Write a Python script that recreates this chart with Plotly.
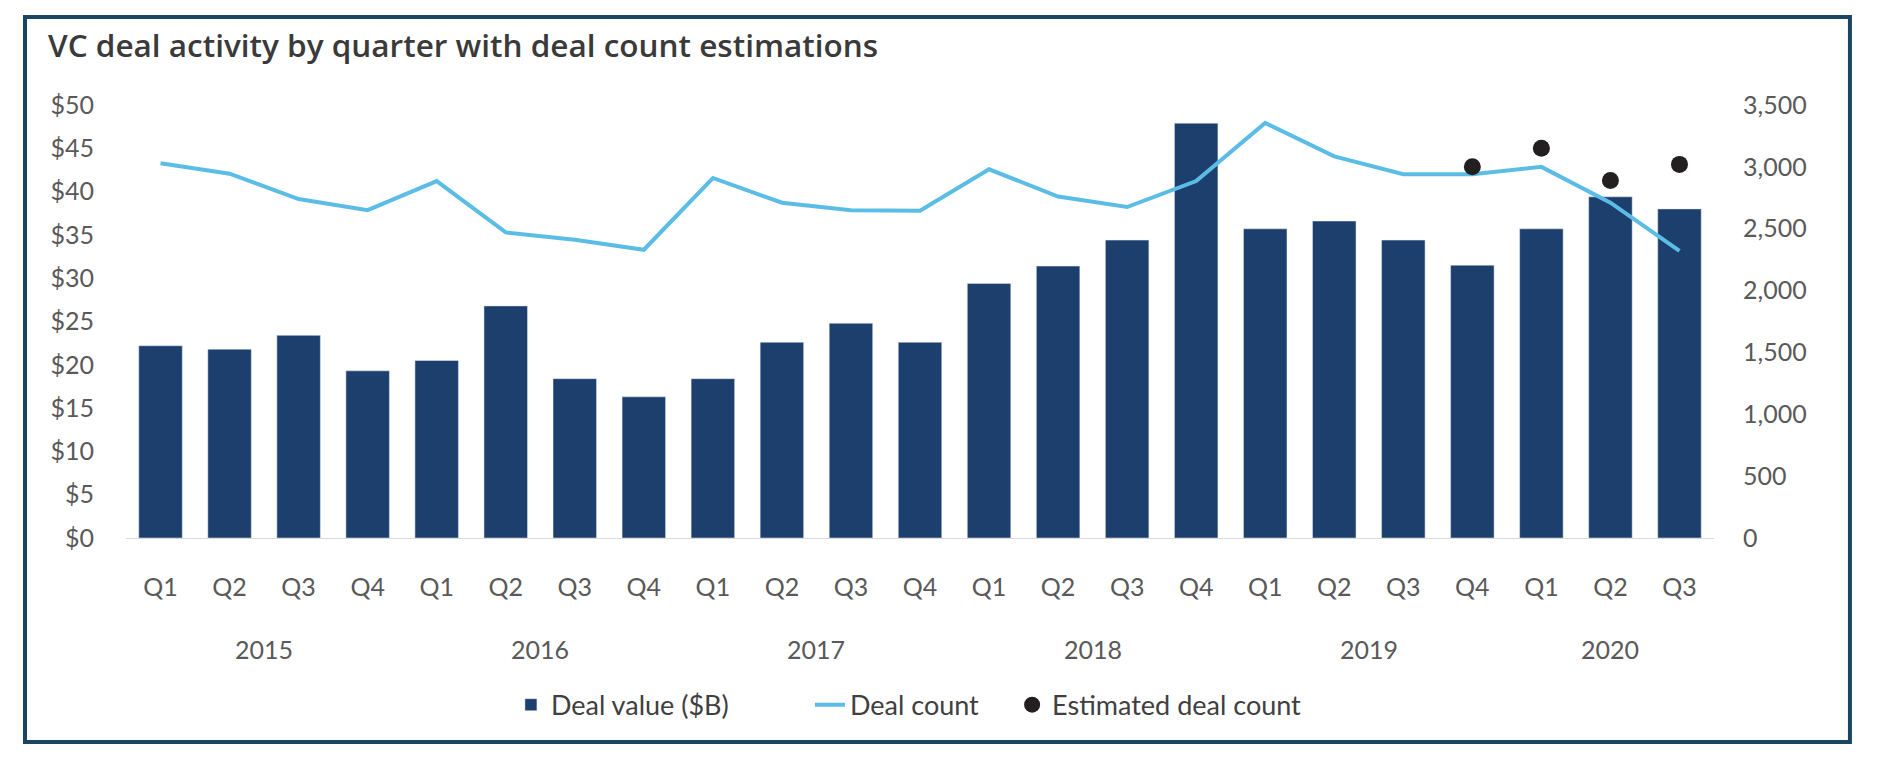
import plotly.graph_objects as go

years = ["2015", "2016", "2017", "2018", "2019", "2020"]
quarters_per_year = [4, 4, 4, 4, 4, 3]
quarters = ["Q1", "Q2", "Q3", "Q4"] * 5 + ["Q1", "Q2", "Q3"]

deal_value = [22.2, 21.8, 23.4, 19.3, 20.5, 26.8, 18.4, 16.3, 18.4, 22.6, 24.8, 22.6,
              29.4, 31.4, 34.4, 47.9, 35.7, 36.6, 34.4, 31.5, 35.7, 39.4, 38.0]
deal_count = [3030, 2945, 2740, 2650, 2885, 2470, 2410, 2330, 2910, 2710, 2650, 2645,
              2980, 2760, 2675, 2885, 3355, 3085, 2940, 2940, 3000, 2710, 2320]
estimated_count = [None] * 19 + [3000, 3150, 2890, 3020]

xs = list(range(len(quarters)))

BAR = "#1d3f6e"
LINE = "#5bbde6"
TXT = "#595959"
FONT = "Lato"

fig = go.Figure()
fig.add_trace(go.Bar(x=xs, y=deal_value, name="Deal value ($B)", marker_color=BAR))
fig.add_trace(go.Scatter(x=xs, y=deal_count, name="Deal count", mode="lines",
                         line=dict(color=LINE, width=4), yaxis="y2"))
fig.add_trace(go.Scatter(x=xs, y=estimated_count, name="Estimated deal count", mode="markers",
                         marker=dict(color="#231f20", size=17), yaxis="y2", legend="legend2"))

# year labels under the quarter ticks
pos = 0
for yr, n in zip(years, quarters_per_year):
    fig.add_annotation(x=pos + (n - 1) / 2, y=-0.256, xref="x", yref="paper",
                       text=yr, showarrow=False, yanchor="middle",
                       font=dict(family=FONT, size=25, color=TXT))
    pos += n

# outer frame
fig.add_shape(type="rect", xref="paper", yref="paper",
              x0=-0.0636, x1=1.0856, y0=-0.471, y1=1.203,
              line=dict(color="#1a4664", width=4))

legend_style = dict(orientation="h", xanchor="left", yanchor="middle", y=-0.386,
                    font=dict(family=FONT, size=27, color="#404040"),
                    bgcolor="rgba(0,0,0,0)")

# page body has an 8px margin, so the figure is 8px smaller than the window
fig.update_layout(
    width=1870, height=756,
    margin=dict(l=118, r=164, t=97, b=226),
    plot_bgcolor="white", paper_bgcolor="white",
    bargap=0.37,
    font=dict(family=FONT, size=25, color=TXT),
    title=dict(text="VC deal activity by quarter with deal count estimations",
               xref="container", yref="container", x=40 / 1870, y=1 - 38 / 756,
               xanchor="left", yanchor="middle",
               font=dict(family="Open Sans", size=31.5, color="#3a3a3a", weight=600)),
    showlegend=True,
    legend=dict(legend_style, x=0.2424, entrywidth=254, entrywidthmode="pixels"),
    legend2=dict(legend_style, x=0.558),
)
fig.update_xaxes(range=[-0.5, len(xs) - 0.5], tickvals=xs, ticktext=quarters,
                 showgrid=False, zeroline=False, showline=True, linecolor="#d9d9d9",
                 linewidth=1, ticks="", ticklabelstandoff=27)
fig.update_layout(
    yaxis=dict(range=[0, 50], dtick=5, tickprefix="$", showgrid=False, zeroline=False,
               ticks="", ticklabelstandoff=31),
    yaxis2=dict(range=[0, 3500], dtick=500, tickformat=",d", overlaying="y", side="right",
                showgrid=False, zeroline=False, ticks="", ticklabelstandoff=28),
)

fig.write_html("out.html")
